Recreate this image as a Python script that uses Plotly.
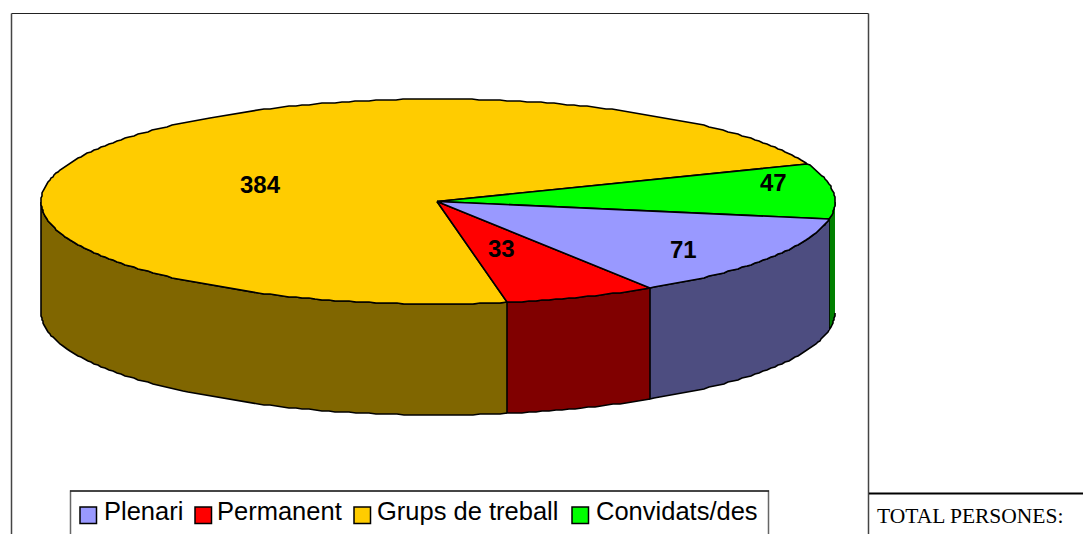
import numpy as np
import plotly.graph_objects as go

categories = ["Plenari", "Permanent", "Grups de treball", "Convidats/des"]
values = [71, 33, 384, 47]
top_colors = ["#9999FF", "#FF0000", "#FFCC00", "#00FF00"]
side_colors = ["#4D4D80", "#800000", "#806600", "#008000"]
side_note = "TOTAL PERSONES:"

CX, CY, A, B, DEPTH = 438, 201.5, 397, 102.5, 111
START = 10.0
label_xy = [(683, 249), (501, 248), (260, 184), (773, 182)]
legend_swatch_x = [80, 195, 354, 572]
legend_text_x = [104, 217, 377, 596]


def ex(t):
    return np.round(CX + A * np.cos(np.radians(t)))


def ey(t):
    return np.round(CY + B * np.sin(np.radians(t)))


total = sum(values)
edges = START + np.cumsum([0] + values) * 360.0 / total

fig = go.Figure()
LINE = dict(color="black", width=1.6)

for i in [3, 2, 1, 0]:
    lo, hi = edges[i], edges[i + 1]
    if i == 3:
        lo, hi = 0, START
    hi = min(hi, 180)
    t = np.array(np.arange(lo, hi, 1.0).tolist() + [hi])
    x = np.concatenate([ex(t), ex(t[::-1])])
    y = np.concatenate([ey(t), ey(t[::-1]) + DEPTH])
    fig.add_trace(go.Scatter(x=x, y=y, mode="lines", fill="toself", fillcolor=side_colors[i],
                             line=LINE, hoverinfo="skip", showlegend=False))

for i in [2, 3, 1, 0]:
    lo, hi = edges[i], edges[i + 1]
    t = np.array(np.arange(lo, hi, 1.0).tolist() + [hi])
    x = np.concatenate([[CX - 1], ex(t), [CX - 1]])
    y = np.concatenate([[CY], ey(t), [CY]])
    fig.add_trace(go.Scatter(x=x, y=y, mode="lines", fill="toself", fillcolor=top_colors[i],
                             line=LINE, name=categories[i], text=str(values[i]), hoverinfo="name+text",
                             showlegend=False))

ann = []
for v, (lx, ly) in zip(values, label_xy):
    ann.append(dict(x=lx, y=ly, text=f"<b>{v}</b>", showarrow=False, xanchor="center", yanchor="middle",
                    font=dict(family="Liberation Sans", size=24, color="black")))
for name, tx in zip(categories, legend_text_x):
    ann.append(dict(x=tx, y=511, text=name, showarrow=False, xanchor="left", yanchor="middle", xshift=-2,
                    font=dict(family="Liberation Sans", size=25.5, color="black")))
ann.append(dict(x=877, y=516, text=side_note, showarrow=False, xanchor="left", yanchor="middle", xshift=-2,
                font=dict(family="Liberation Serif", size=21.5, color="black")))

shapes = [
    dict(type="line", x0=11.5, x1=868.5, y0=13.5, y1=13.5, line=dict(color="#222222", width=1), layer="below"),
    dict(type="line", x0=11.5, x1=11.5, y0=13.5, y1=560, line=dict(color="#444444", width=1.5), layer="below"),
    dict(type="line", x0=868.5, x1=868.5, y0=13.5, y1=560, line=dict(color="#444444", width=1.5), layer="below"),
    dict(type="rect", x0=70.5, x1=768.5, y0=491, y1=560, line=dict(color="#666666", width=1.5), fillcolor="white"),
    dict(type="line", x0=70, x1=769, y0=491, y1=491, line=dict(color="black", width=1)),
    dict(type="line", x0=869, x1=1083, y0=493.5, y1=493.5, line=dict(color="black", width=2)),
]
for c, sx in zip(top_colors, legend_swatch_x):
    shapes.append(dict(type="rect", x0=sx, x1=sx + 16.5, y0=507, y1=523.5, fillcolor=c,
                       line=dict(color="black", width=1.5)))

fig.update_layout(
    width=1083, height=534, margin=dict(l=0, r=0, t=0, b=0),
    paper_bgcolor="white", plot_bgcolor="white", showlegend=False,
    xaxis=dict(range=[0, 1083], visible=False, fixedrange=True),
    yaxis=dict(range=[534, 0], visible=False, fixedrange=True),
    shapes=shapes, annotations=ann,
)
fig.write_html("out.html", config={"displayModeBar": False},
               post_script="document.body.style.margin='0';document.documentElement.style.overflow='hidden';")
